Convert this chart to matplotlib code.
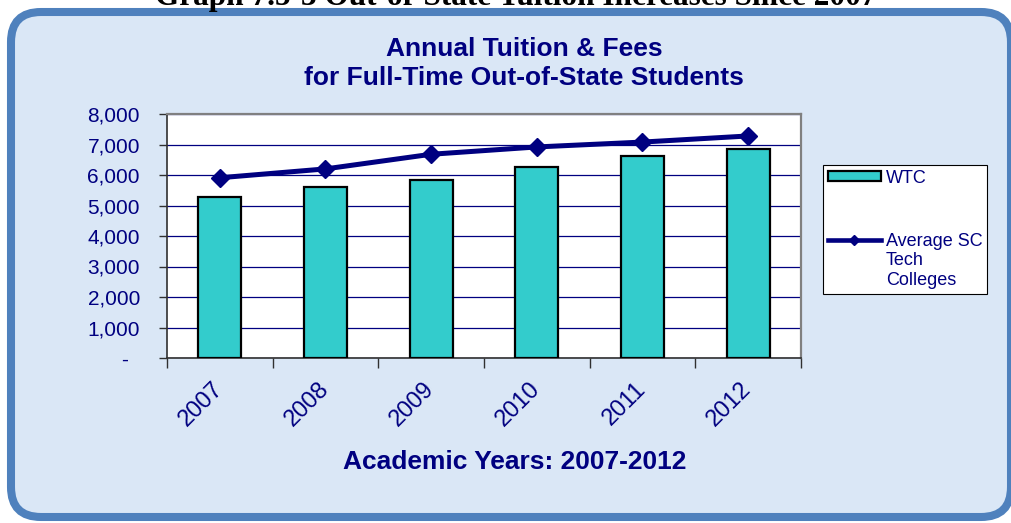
import numpy as np
import matplotlib
matplotlib.use("Agg")
import matplotlib.pyplot as plt
from matplotlib.patches import FancyBboxPatch, Patch
from matplotlib.lines import Line2D
from matplotlib.legend_handler import HandlerLine2D
from matplotlib.ticker import FixedLocator, FuncFormatter

# data
years = ["2007", "2008", "2009", "2010", "2011", "2012"]
wtc = [5290, 5600, 5840, 6270, 6630, 6840]
sc_avg = [5910, 6200, 6680, 6920, 7080, 7280]

NAVY = "#000080"
TEAL = "#33cccc"
FRAME_BLUE = "#4f81bd"
PANEL_BG = "#dae7f6"

plt.rcParams["font.family"] = ["Liberation Sans", "DejaVu Sans"]

W, H = 1012, 523
fig = plt.figure(figsize=(W / 100, H / 100), dpi=100)
fig.patch.set_facecolor("white")

# rounded panel behind everything (display pixels, y from bottom)
panel = FancyBboxPatch((11, 6), 1000, 505,
                       boxstyle="round,pad=0,rounding_size=30",
                       transform=None, facecolor=PANEL_BG,
                       edgecolor=FRAME_BLUE, linewidth=5.8, zorder=-1)
fig.patches.append(panel)

# heading of the page, cut off by the top edge like in the source
fig.text(0.510, 1 - 5 / H, "Graph 7.5-3 Out-of-State Tuition Increases Since 2007",
         ha="center", va="baseline", fontsize=22.5, fontweight="bold",
         family="Liberation Serif", color="black", zorder=-0.5)

ax = fig.add_axes([167 / W, 1 - 358 / H, 634 / W, 244 / H])
ax.set_zorder(1)
ax.set_facecolor("white")

x = np.arange(len(years))
ax.bar(x, wtc, width=0.41, color=TEAL, edgecolor="black", linewidth=1.6, zorder=3)
ax.plot(x, sc_avg, color=NAVY, linewidth=3.6, marker="D", markersize=9,
        zorder=4, clip_on=False)

ax.set_xlim(-0.5, len(years) - 0.5)
ax.set_ylim(0, 8000)

ax.yaxis.set_major_locator(FixedLocator(range(0, 8001, 1000)))
ax.yaxis.set_major_formatter(FuncFormatter(lambda v, p: "-  " if v == 0 else f"{int(v):,}"))
ax.grid(axis="y", color=NAVY, linewidth=0.9, zorder=1)
ax.set_axisbelow(True)

ax.tick_params(axis="y", direction="out", length=6, width=1, color="#303030",
               labelcolor=NAVY, labelsize=15, pad=13.5)

# category boundary ticks on x, labels at the centres
ax.set_xticks(np.arange(-0.5, len(years)))
ax.set_xticklabels([])
ax.tick_params(axis="x", which="major", direction="out", length=7, width=1, color="#303030")
ax.set_xticks(x, minor=True)
ax.set_xticklabels(years, minor=True, rotation=45, ha="right", va="center",
                   rotation_mode="anchor", color=NAVY, fontsize=17)
ax.tick_params(axis="x", which="minor", length=0, pad=20)

for side in ["left", "bottom"]:
    ax.spines[side].set_color("#303030")
    ax.spines[side].set_linewidth(1.2)
for side in ["top", "right"]:
    ax.spines[side].set_color("#808080")
    ax.spines[side].set_linewidth(1.6)

fig.text(524 / W, 1 - 49 / H, "Annual Tuition & Fees", ha="center", va="center",
         fontsize=19, fontweight="bold", color=NAVY)
fig.text(524 / W, 1 - 78 / H, "for Full-Time Out-of-State Students", ha="center",
         va="center", fontsize=19, fontweight="bold", color=NAVY)
fig.text(515 / W, 1 - 462 / H, "Academic Years: 2007-2012", ha="center", va="center",
         fontsize=19, fontweight="bold", color=NAVY)


class TopLineHandler(HandlerLine2D):
    # put the line next to the first row of a multi-line label
    def __init__(self, shift, **kw):
        super().__init__(**kw)
        self.shift = shift

    def adjust_drawing_area(self, legend, orig_handle, xdescent, ydescent,
                            width, height, fontsize):
        xd, yd, w, h = super().adjust_drawing_area(legend, orig_handle, xdescent,
                                                   ydescent, width, height, fontsize)
        return xd, yd - 2 * self.shift, w, h


sc_handle = Line2D([], [], color=NAVY, linewidth=3.3, marker="D", markersize=5)
handles = [Patch(facecolor=TEAL, edgecolor="black", linewidth=1.6), sc_handle]
leg = fig.legend(handles, ["WTC", "Average SC\nTech\nColleges"],
                 loc="upper left", bbox_to_anchor=(823 / W, 1 - 165 / H),
                 frameon=True, fancybox=False, fontsize=13, labelspacing=2.55,
                 handlelength=2.95, handleheight=0.5, handletextpad=0.28,
                 borderpad=0.25, borderaxespad=0,
                 handler_map={sc_handle: TopLineHandler(shift=15.7)})
leg.get_frame().set_edgecolor("black")
leg.get_frame().set_linewidth(0.8)
leg.get_frame().set_alpha(1)
for t in leg.get_texts():
    t.set_color(NAVY)
    t.set_linespacing(1.22)

fig.savefig("out.png", dpi=100)
